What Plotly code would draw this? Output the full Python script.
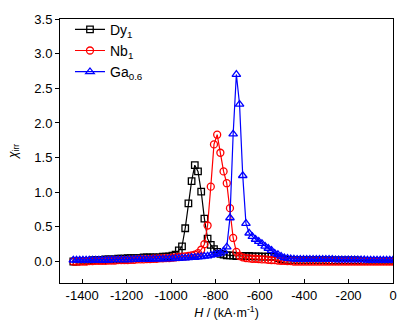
import plotly.graph_objects as go

# Applied field sweep (kA/m), shared by all three samples
H = [-1440.0, -1425.6, -1411.2, -1396.8, -1382.4, -1368.0, -1353.6, -1339.2, -1324.8, -1310.4,
     -1296.0, -1281.6, -1267.2, -1252.8, -1238.4, -1224.0, -1209.6, -1195.2, -1180.8, -1166.4,
     -1152.0, -1137.6, -1123.2, -1108.8, -1094.4, -1080.0, -1065.6, -1051.2, -1036.8, -1022.4,
     -1008.0, -993.6, -979.2, -964.8, -950.4, -936.0, -921.6, -907.2, -892.8, -878.4,
     -864.0, -849.6, -835.2, -820.8, -806.4, -792.0, -777.6, -763.2, -748.8, -734.4,
     -720.0, -705.6, -691.2, -676.8, -662.4, -648.0, -633.6, -619.2, -604.8, -590.4,
     -576.0, -561.6, -547.2, -532.8, -518.4, -504.0, -489.6, -475.2, -460.8, -446.4,
     -432.0, -417.6, -403.2, -388.8, -374.4, -360.0, -345.6, -331.2, -316.8, -302.4,
     -288.0, -273.6, -259.2, -244.8, -230.4, -216.0, -201.6, -187.2, -172.8, -158.4,
     -144.0, -129.6, -115.2, -100.8, -86.4, -72.0, -57.6, -43.2, -28.8, -14.4,
     0.0]

# Irreversible susceptibility of each sample
chi_dy = [0.00, 0.00, 0.01, 0.01, 0.01, 0.01, 0.02, 0.02, 0.02, 0.02,
          0.03, 0.03, 0.03, 0.03, 0.04, 0.04, 0.04, 0.05, 0.05, 0.05,
          0.05, 0.05, 0.06, 0.06, 0.06, 0.06, 0.06, 0.06, 0.07, 0.07,
          0.075, 0.085, 0.10, 0.16, 0.22, 0.48, 0.84, 1.16, 1.39, 1.30,
          1.01, 0.62, 0.33, 0.24, 0.18, 0.14, 0.11, 0.10, 0.09, 0.09,
          0.085, 0.08, 0.08, 0.08, 0.08, 0.08, 0.075, 0.075, 0.075, 0.07,
          0.07, 0.07, 0.07, 0.065, 0.05, 0.035, 0.025, 0.02, 0.02, 0.02,
          0.02, 0.02, 0.02, 0.02, 0.02, 0.02, 0.02, 0.02, 0.02, 0.02,
          0.015, 0.015, 0.015, 0.015, 0.015, 0.015, 0.015, 0.015, 0.015, 0.015,
          0.01, 0.01, 0.01, 0.01, 0.01, 0.01, 0.01, 0.01, 0.01, 0.01,
          0.01]

chi_nb = [0.00, 0.00, 0.00, 0.00, 0.00, 0.005, 0.005, 0.01, 0.01, 0.01,
          0.01, 0.015, 0.015, 0.015, 0.02, 0.02, 0.02, 0.02, 0.025, 0.025,
          0.03, 0.03, 0.03, 0.035, 0.035, 0.04, 0.04, 0.045, 0.045, 0.05,
          0.05, 0.055, 0.06, 0.065, 0.07, 0.075, 0.08, 0.09, 0.10, 0.12,
          0.17, 0.25, 0.52, 1.08, 1.69, 1.83, 1.57, 1.30, 1.13, 0.77,
          0.34, 0.14, 0.08, 0.06, 0.05, 0.045, 0.04, 0.04, 0.035, 0.03,
          0.03, 0.025, 0.02, 0.02, 0.015, 0.01, 0.01, 0.005, 0.005, 0.00,
          0.00, 0.00, 0.00, 0.00, 0.00, 0.00, 0.00, 0.00, 0.00, 0.00,
          0.00, 0.00, 0.00, 0.00, 0.00, 0.00, 0.00, 0.00, 0.00, 0.00,
          0.00, 0.00, 0.00, 0.00, 0.00, 0.00, 0.00, 0.00, 0.00, 0.00,
          0.00]

chi_ga = [0.02, 0.02, 0.02, 0.02, 0.02, 0.02, 0.02, 0.02, 0.02, 0.02,
          0.02, 0.02, 0.025, 0.025, 0.025, 0.025, 0.025, 0.025, 0.025, 0.03,
          0.03, 0.03, 0.03, 0.03, 0.03, 0.035, 0.035, 0.035, 0.035, 0.04,
          0.04, 0.04, 0.045, 0.045, 0.05, 0.05, 0.055, 0.06, 0.06, 0.065,
          0.07, 0.075, 0.08, 0.09, 0.10, 0.11, 0.12, 0.15, 0.21, 0.63,
          1.84, 2.70, 2.27, 1.24, 0.55, 0.41, 0.36, 0.32, 0.29, 0.26,
          0.22, 0.19, 0.16, 0.12, 0.10, 0.075, 0.055, 0.045, 0.04, 0.035,
          0.03, 0.03, 0.03, 0.03, 0.03, 0.03, 0.03, 0.03, 0.03, 0.03,
          0.03, 0.03, 0.025, 0.025, 0.025, 0.025, 0.025, 0.025, 0.025, 0.025,
          0.025, 0.025, 0.02, 0.02, 0.02, 0.02, 0.02, 0.02, 0.02, 0.02,
          0.02]

names = ["Dy<sub>1</sub>", "Nb<sub>1</sub>", "Ga<sub>0.6</sub>"]
colors = ["#000000", "#ff0000", "#0000ff"]
symbols = ["square-open", "circle-open", "triangle-up-open"]
sizes = [6.5, 7, 7.5]

x_tickvals = [-1400, -1200, -1000, -800, -600, -400, -200, 0]
x_ticktext = ["-1400", "-1200", "-1000", "-800", "-600", "-400", "-200", "0"]
y_tickvals = [0.0, 0.5, 1.0, 1.5, 2.0, 2.5, 3.0, 3.5]

FONT = "Liberation Sans, Arial, sans-serif"

fig = go.Figure()
for name, ys, c, s, sz in zip(names, [chi_dy, chi_nb, chi_ga], colors, symbols, sizes):
    fig.add_trace(go.Scatter(
        x=H, y=ys, name=name, mode="lines+markers",
        line=dict(color=c, width=1.2),
        marker=dict(symbol=s, size=sz, color=c, line=dict(width=1.3, color=c)),
    ))

fig.update_layout(
    width=410, height=331,
    margin=dict(l=52, r=17, t=15, b=48),
    paper_bgcolor="white", plot_bgcolor="white",
    font=dict(family=FONT, size=13, color="#000000"),
    showlegend=True,
    legend=dict(x=0.03, y=1.02, xanchor="left", yanchor="top",
                bgcolor="rgba(0,0,0,0)", font=dict(size=14),
                tracegroupgap=0, itemsizing="trace"),
)
fig.update_xaxes(
    range=[-1500, 0], tickvals=x_tickvals, ticktext=x_ticktext,
    showgrid=False, zeroline=False,
    showline=True, linecolor="black", linewidth=1, mirror=True,
    ticks="inside", ticklen=4, tickcolor="black",
    title=dict(text="<i>H</i> / (kA·m<sup>-1</sup>)", font=dict(size=12.5), standoff=6),
)
fig.update_yaxes(
    range=[-0.31, 3.5], tickvals=y_tickvals, tickformat=".1f",
    showgrid=False, zeroline=False,
    showline=True, linecolor="black", linewidth=1, mirror=True,
    ticks="outside", ticklen=4, tickcolor="black",
    title=dict(text="<i>χ</i><sub>irr</sub>", font=dict(size=12), standoff=14),
)

fig.write_html("out.html")
